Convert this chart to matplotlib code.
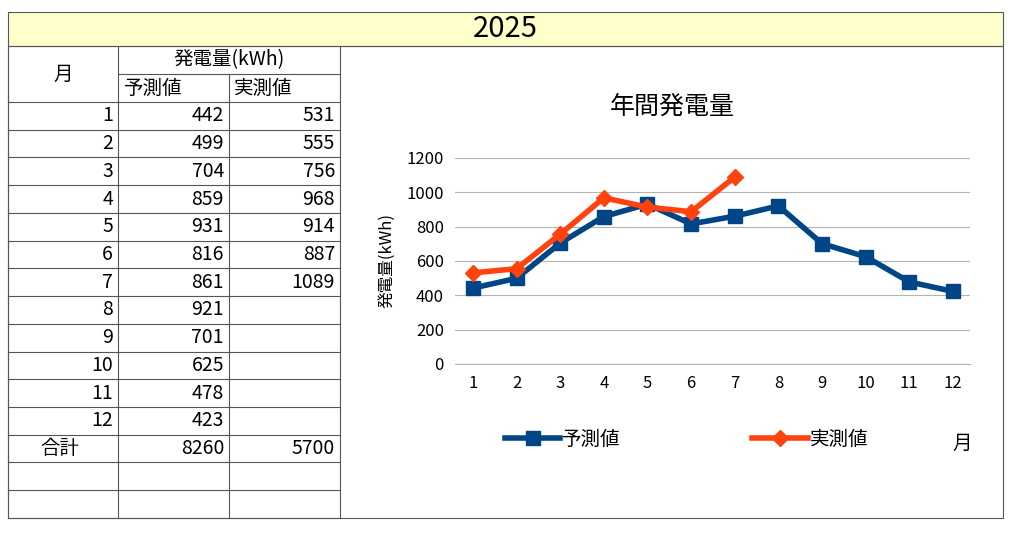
import matplotlib
matplotlib.use("Agg")
import matplotlib.pyplot as plt

plt.rcParams['font.family'] = ['Noto Sans CJK JP', 'DejaVu Sans']

year = "2025"
months = [1, 2, 3, 4, 5, 6, 7, 8, 9, 10, 11, 12]
forecast = [442, 499, 704, 859, 931, 816, 861, 921, 701, 625, 478, 423]
actual = [531, 555, 756, 968, 914, 887, 1089]
total_forecast = 8260
total_actual = 5700

W, H = 1024, 548
fig = plt.figure(figsize=(W/100, H/100), dpi=100)
bg = fig.add_axes([0, 0, 1, 1])
bg.set_xlim(0, W); bg.set_ylim(H, 0); bg.axis('off')

lc = '#555555'
bg.add_patch(plt.Rectangle((8, 12), 995, 34, facecolor='#ffffcc', edgecolor=lc, lw=0.8))
bg.text(505, 29, year, ha='center', va='center', fontsize=21)
bg.add_patch(plt.Rectangle((8, 46), 995, 472, facecolor='none', edgecolor=lc, lw=0.8))

cols = [8, 118, 229, 340]
rh = 27.73
top = 102
nrows = 15
for x in cols:
    bg.plot([x, x], [46 if x in (8, 118, 340) else 74, 518], color=lc, lw=0.8)
bg.plot([118, 340], [74, 74], color=lc, lw=0.8)
for i in range(nrows + 1):
    y = top + i * rh
    bg.plot([8, 340], [y, y], color=lc, lw=0.8)
fs = 14
bg.text(63, 74, "月", ha='center', va='center', fontsize=fs)
bg.text(229, 60, "発電量(kWh)", ha='center', va='center', fontsize=fs)
bg.text(124, 88, "予測値", ha='left', va='center', fontsize=fs)
bg.text(234, 88, "実測値", ha='left', va='center', fontsize=fs)
for i, m in enumerate(months):
    yc = top + (i + 0.5) * rh
    bg.text(113, yc, str(m), ha='right', va='center', fontsize=fs)
    bg.text(224, yc, str(forecast[i]), ha='right', va='center', fontsize=fs)
    if i < len(actual):
        bg.text(335, yc, str(actual[i]), ha='right', va='center', fontsize=fs)
yc = top + 12.5 * rh
bg.text(40, yc, "合計", ha='left', va='center', fontsize=fs)
bg.text(224, yc, str(total_forecast), ha='right', va='center', fontsize=fs)
bg.text(335, yc, str(total_actual), ha='right', va='center', fontsize=fs)

x0, x1, y0, y1 = 455, 970, 158, 364
ax = fig.add_axes([x0/W, 1 - y1/H, (x1-x0)/W, (y1-y0)/H])
ax.set_xlim(0.59, 12.39); ax.set_ylim(0, 1200)
ax.set_yticks(range(0, 1201, 200))
ax.set_xticks(months)
ax.grid(axis='y', color='#b3b3b3', lw=0.8)
ax.set_axisbelow(True)
for s in ['top', 'right', 'left']:
    ax.spines[s].set_visible(False)
ax.spines['bottom'].set_color('#b3b3b3')
ax.tick_params(length=0, labelsize=12, pad=8)
ax.plot(months, forecast, color='#004586', lw=4, marker='s', ms=10)
ax.plot(months[:len(actual)], actual, color='#ff420e', lw=4, marker='D', ms=8)
ax.set_ylabel("発電量(kWh)", fontsize=12, labelpad=8)
bg.text(672, 107, "年間発電量", ha='center', va='center', fontsize=18)
bg.plot([505, 560], [438, 438], color='#004586', lw=4)
bg.plot([533], [438], marker='s', color='#004586', ms=10)
bg.text(562, 439, "予測値", ha='left', va='center', fontsize=14)
bg.plot([752, 808], [438, 438], color='#ff420e', lw=4)
bg.plot([780], [438], marker='D', color='#ff420e', ms=8)
bg.text(810, 439, "実測値", ha='left', va='center', fontsize=14)
bg.text(962, 443, "月", ha='center', va='center', fontsize=14)

fig.savefig("out.png", dpi=100)
